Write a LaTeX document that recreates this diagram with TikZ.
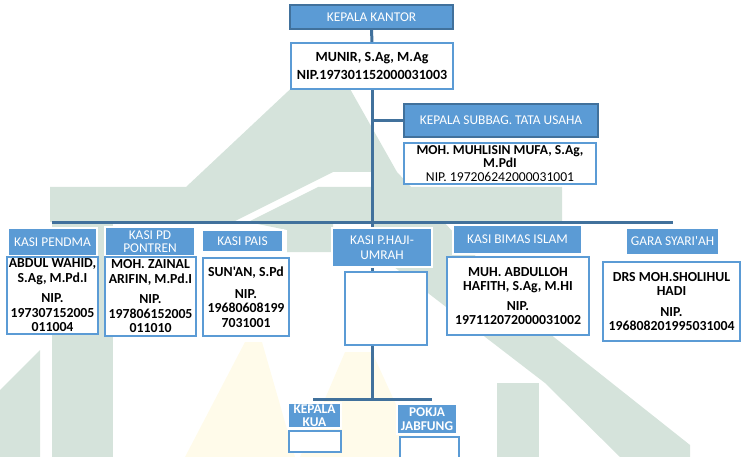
\documentclass[tikz,border=0pt]{standalone}
\usepackage{fontspec}
\setmainfont{Carlito}[Ligatures=TeXOff]
\definecolor{hblue}{HTML}{5B9BD5}
\definecolor{dblue}{HTML}{41719C}
\definecolor{lnblue}{HTML}{41719C}
\definecolor{wm}{HTML}{D5E3DB}
\definecolor{wy}{HTML}{FFFBEA}
\pgfdeclarelayer{wmk}
\pgfdeclarelayer{bg}
\pgfsetlayers{wmk,bg,main}
\tikzset{
 base/.style={anchor=north west, inner sep=0pt, outer sep=0pt, align=center, font=\fontsize{13.4}{14.5}\selectfont},
 hdrdark/.style={base, fill=hblue, draw=dblue, line width=2pt, text=white},
 hdr/.style={base, fill=hblue, draw=white, line width=1.2pt, text=white},
 body/.style={base, fill=white, draw=hblue, line width=2pt, text=black, font=\fontsize{13.8}{14.5}\selectfont\bfseries},
 conn/.style={draw=lnblue, line width=3pt},
 wmark/.style={fill=wm, draw=none},
 wyel/.style={fill=wy, draw=none},
}
\begin{document}
\begin{tikzpicture}[x=1pt,y=-1pt]
\useasboundingbox (0,0) rectangle (741,457);
\clip (0,0) rectangle (741,457);

% boxes
\node[hdrdark, minimum width=163pt, minimum height=24pt] (kk) at (290,5) {KEPALA KANTOR};
\node[body, minimum width=162pt, minimum height=46pt, font=\fontsize{14}{14.5}\selectfont\bfseries] (munir) at (291,43) {MUNIR, S.Ag, M.Ag\\[4pt]NIP.197301152000031003};
\node[hdrdark, minimum width=194pt, minimum height=33pt] (subbag) at (404,104) {KEPALA SUBBAG. TATA USAHA};
\node[body, minimum width=192pt, minimum height=41pt, font=\fontsize{13.6}{13.5}\selectfont\bfseries] (muhlisin) at (404,143) {MOH. MUHLISIN MUFA, S.Ag,\\M.PdI\\{\mdseries NIP. 197206242000031001}};

\node[hdr, minimum width=89pt, minimum height=28pt] (pendmaH) at (8,228) {KASI PENDMA};
\node[body, minimum width=91pt, minimum height=77pt] (pendmaB) at (7,257) {ABDUL WAHID,\\S.Ag, M.Pd.I\\[6pt]NIP.\\197307152005\\011004};
\node[hdr, minimum width=90pt, minimum height=29pt, font=\fontsize{13.4}{13}\selectfont] (pontrenH) at (105,227) {KASI PD\\PONTREN};
\node[body, minimum width=91pt, minimum height=79pt] (pontrenB) at (105,257) {MOH. ZAINAL\\ARIFIN, M.Pd.I\\[6pt]NIP.\\197806152005\\011010};
\node[hdr, minimum width=81pt, minimum height=22pt] (paisH) at (202,230) {KASI PAIS};
\node[body, minimum width=86pt, minimum height=78pt] (paisB) at (203,258) {SUN'AN, S.Pd\\[7pt]NIP.\\19680608199\\7031001};
\node[hdr, minimum width=100pt, minimum height=39pt, font=\fontsize{13.4}{15}\selectfont] (hajiH) at (332,228) {KASI P.HAJI-\\UMRAH};
\node[body, minimum width=82pt, minimum height=73pt] (hajiB) at (345,272) {};
\node[hdr, minimum width=129pt, minimum height=29pt] (bimasH) at (453,225) {KASI BIMAS ISLAM};
\node[body, minimum width=142pt, minimum height=78pt] (bimasB) at (447,257) {MUH. ABDULLOH\\HAFITH, S.Ag, M.HI\\[5pt]NIP.\\197112072000031002};
\node[hdr, minimum width=93pt, minimum height=27pt] (garaH) at (626,228) {GARA SYARI'AH};
\node[body, minimum width=137pt, minimum height=79pt] (garaB) at (603,262) {DRS MOH.SHOLIHUL\\HADI\\[6pt]NIP.\\196808201995031004};
\node[hdr, minimum width=53pt, minimum height=25pt, font=\fontsize{13.4}{12.5}\selectfont\bfseries] (kuaH) at (288,403) {KEPALA\\KUA};
\node[body, minimum width=52pt, minimum height=21pt] (kuaB) at (289,431) {};
\node[hdr, minimum width=60pt, minimum height=30pt, font=\fontsize{13.4}{14}\selectfont\bfseries] (pokjaH) at (397,404) {POKJA\\JABFUNG};
\node[body, minimum width=59pt, minimum height=25pt] (pokjaB) at (400,437) {};

% connectors
\coordinate (barL) at (52,222);
\coordinate (barR) at (673,222);
\coordinate (bbL) at (313,399);
\coordinate (bbR) at (432,399);
\begin{pgfonlayer}{bg}
\draw[conn] (kk.south) -- (munir.north);
\draw[conn] (munir.south) -- (munir.south |- bbL);
\draw[conn] (munir.south |- subbag.west) -- (subbag.west);
\draw[conn] (barL) -- (barR);
\draw[conn] (bbL) -- (bbR);
\end{pgfonlayer}

% watermark
\begin{pgfonlayer}{wmk}
\fill[wmark] (300,80) -- (345,80) -- (397,172) -- (333,172) -- (233,222) -- (50,222) -- (50,187) -- (186,187) -- cycle;
\fill[wmark] (318,187) -- (562,187) -- (562,222) -- (248,222) -- cycle;
\fill[wmark] (248,222) -- (333,222) -- (333,252) -- (287,252) -- (287,230) -- cycle;
\fill[wmark] (372,172) -- (397,172) -- (545,330) -- (690,445) -- (690,457) -- (620,457) -- (545,383) -- (372,250) -- cycle;
\fill[wmark] (497,383) -- (539,383) -- (539,457) -- (497,457) -- cycle;
\fill[wmark] (52,222) -- (113,222) -- (113,457) -- (52,457) -- cycle;
\fill[wmark] (0,390) -- (40,350) -- (40,457) -- (0,457) -- cycle;
\fill[wyel] (185,457) -- (245,342) -- (262,342) -- (295,457) -- cycle;
\fill[wyel] (300,457) -- (345,352) -- (372,352) -- (420,457) -- cycle;
\end{pgfonlayer}
\end{tikzpicture}
\end{document}
